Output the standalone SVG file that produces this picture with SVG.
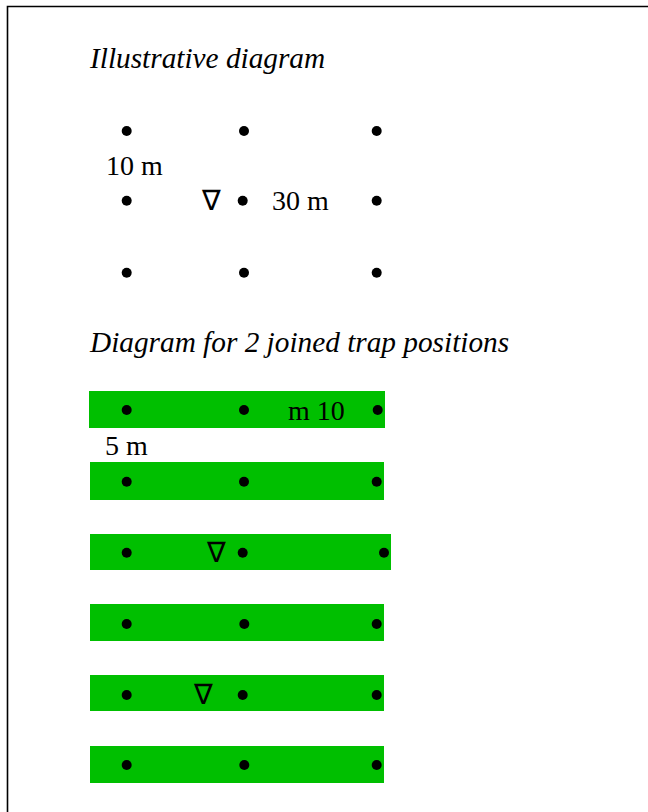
<svg xmlns="http://www.w3.org/2000/svg" width="648" height="812" viewBox="0 0 648 812">
<style>
.t{font-family:"Liberation Serif","Times New Roman",serif;font-size:28px;fill:#000}
.i{font-style:italic;font-size:29.3px}
.bar{fill:#00bf00}
.d{fill:#000}
</style>
<rect x="0" y="0" width="648" height="812" fill="#fff"/>
<path d="M7.5 812 V6.5 H648" fill="none" stroke="#000" stroke-width="1.6"/>
<g id="title1"><text class="t i" x="90" y="68">Illustrative diagram</text></g>
<g id="grid1">
<circle class="d" cx="126.7" cy="131" r="5"/>
<circle class="d" cx="244" cy="131" r="5"/>
<circle class="d" cx="376.7" cy="131" r="5"/>
<circle class="d" cx="126.7" cy="200.7" r="5"/>
<circle class="d" cx="242.7" cy="200.7" r="5"/>
<circle class="d" cx="376.7" cy="200.7" r="5"/>
<circle class="d" cx="126.7" cy="272.7" r="5"/>
<circle class="d" cx="244" cy="272.7" r="5"/>
<circle class="d" cx="376.7" cy="272.7" r="5"/>
<text class="t" x="106" y="175">10 m</text>
<text class="t" x="202" y="210">∇</text>
<text class="t" x="272" y="210">30 m</text>
</g>
<g id="title2"><text class="t i" x="90" y="352">Diagram for 2 joined trap positions</text></g>
<g id="bars">
<rect class="bar" x="89" y="391" width="296" height="37"/>
<rect class="bar" x="90" y="462" width="294" height="38"/>
<rect class="bar" x="90" y="534" width="301" height="36"/>
<rect class="bar" x="90" y="604" width="294" height="37"/>
<rect class="bar" x="90" y="675" width="294" height="36"/>
<rect class="bar" x="90" y="746" width="294" height="37"/>
</g>
<g id="grid2">
<circle class="d" cx="126.7" cy="410" r="5"/>
<circle class="d" cx="244" cy="410" r="5"/>
<circle class="d" cx="377.7" cy="410" r="5"/>
<circle class="d" cx="126.7" cy="481.7" r="5"/>
<circle class="d" cx="244" cy="481.7" r="5"/>
<circle class="d" cx="376.7" cy="481.7" r="5"/>
<circle class="d" cx="126.7" cy="552.7" r="5"/>
<circle class="d" cx="242.7" cy="552.7" r="5"/>
<circle class="d" cx="384" cy="552.7" r="5"/>
<circle class="d" cx="126.7" cy="624" r="5"/>
<circle class="d" cx="244.3" cy="624" r="5"/>
<circle class="d" cx="376.7" cy="624" r="5"/>
<circle class="d" cx="126.7" cy="695" r="5"/>
<circle class="d" cx="242.7" cy="695" r="5"/>
<circle class="d" cx="376.7" cy="695" r="5"/>
<circle class="d" cx="126.7" cy="765" r="5"/>
<circle class="d" cx="244.3" cy="765" r="5"/>
<circle class="d" cx="376.7" cy="765" r="5"/>
<text class="t" x="288" y="420">m 10</text>
<text class="t" x="105" y="455">5 m</text>
<text class="t" x="207" y="562">∇</text>
<text class="t" x="194" y="704">∇</text>
</g>
</svg>
